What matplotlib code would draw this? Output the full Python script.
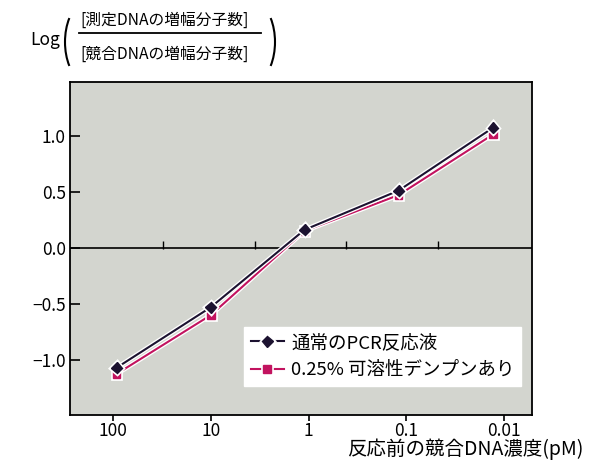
import numpy as np
import matplotlib.pyplot as plt
import matplotlib.patheffects as pe
from matplotlib.patches import Arc

# concentration before reaction (pM) and log ratio values
conc = [92, 10, 1.1, 0.12, 0.013]
normal = [-1.07, -0.53, 0.16, 0.51, 1.07]
starch = [-1.125, -0.60, 0.15, 0.47, 1.01]
xticks = [100, 10, 1, 0.1, 0.01]
xticklabels = ['100', '10', '1', '0.1', '0.01']
yticks = [-1.0, -0.5, 0.0, 0.5, 1.0]
zero_ticks = [31, 3.5, 0.41, 0.047]
labels = ['通常のPCR反応液', '0.25% 可溶性デンプンあり']

plt.rcParams['font.family'] = ['Noto Sans CJK JP', 'DejaVu Sans']

W, H = 589, 462
fig = plt.figure(figsize=(W / 100, H / 100), dpi=100)
ax = fig.add_axes([0.119, 0.102, 0.784, 0.721])
ax.set_facecolor('#d3d5cf')

ax.set_xscale('log')
ax.set_xlim(275, 0.0052)
ax.set_ylim(-1.49, 1.48)

ax.axhline(0, color='black', lw=1.2, zorder=2)
ax.plot(zero_ticks, [0.025] * len(zero_ticks), ls='none', marker='|',
        ms=6, mew=1.0, color='black', zorder=2)

outline = [pe.Stroke(linewidth=3.4, foreground='white'), pe.Normal()]
ax.plot(conc, normal, color='#1c1230', lw=1.5, marker='D', ms=5.5,
        label=labels[0], zorder=4, path_effects=outline)
ax.plot(conc, starch, color='#c2135f', lw=1.5, marker='s', ms=5.5,
        label=labels[1], zorder=3, path_effects=outline)

ax.set_xticks(xticks)
ax.set_xticklabels(xticklabels)
ax.xaxis.set_minor_locator(plt.NullLocator())
ax.set_yticks(yticks)
ax.set_yticklabels(['\u22121.0', '\u22120.5', '0.0', '0.5', '1.0'])
ax.tick_params(axis='x', direction='out', length=4, width=1.2, labelsize=12.5, pad=1)
ax.tick_params(axis='y', direction='in', length=7, width=1.2, labelsize=12.5, pad=3)
for s in ax.spines.values():
    s.set_linewidth(1.3)

leg = ax.legend(loc='lower right', bbox_to_anchor=(0.997, 0.06), fontsize=13.3,
                frameon=True, fancybox=False, edgecolor='white',
                handlelength=1.8, handletextpad=0.4, borderpad=0.35,
                labelspacing=0.5, framealpha=1)

fig.text(0.99, 0.004, '反応前の競合DNA濃度(pM)', ha='right', va='bottom', fontsize=14)

# y-axis label as a fraction in parentheses
fig.text(0.052, 0.913, 'Log', ha='left', va='center', fontsize=12.5)
fig.text(0.136, 0.955, '[測定DNAの増幅分子数]', ha='left', va='center', fontsize=11.3)
fig.text(0.136, 0.883, '[競合DNAの増幅分子数]', ha='left', va='center', fontsize=11.3)
fig.add_artist(plt.Line2D([79 / W, 261 / W], [1 - 33 / H, 1 - 33 / H],
                          color='black', lw=1.3))
fig.add_artist(Arc((87 / W, 1 - 42 / H), 44 / W, 80 / H, theta1=120, theta2=240,
                   transform=fig.transFigure, color='black', lw=1.5))
fig.add_artist(Arc((253 / W, 1 - 42 / H), 44 / W, 80 / H, theta1=-60, theta2=60,
                   transform=fig.transFigure, color='black', lw=1.5))

fig.savefig('out.png', dpi=100)
